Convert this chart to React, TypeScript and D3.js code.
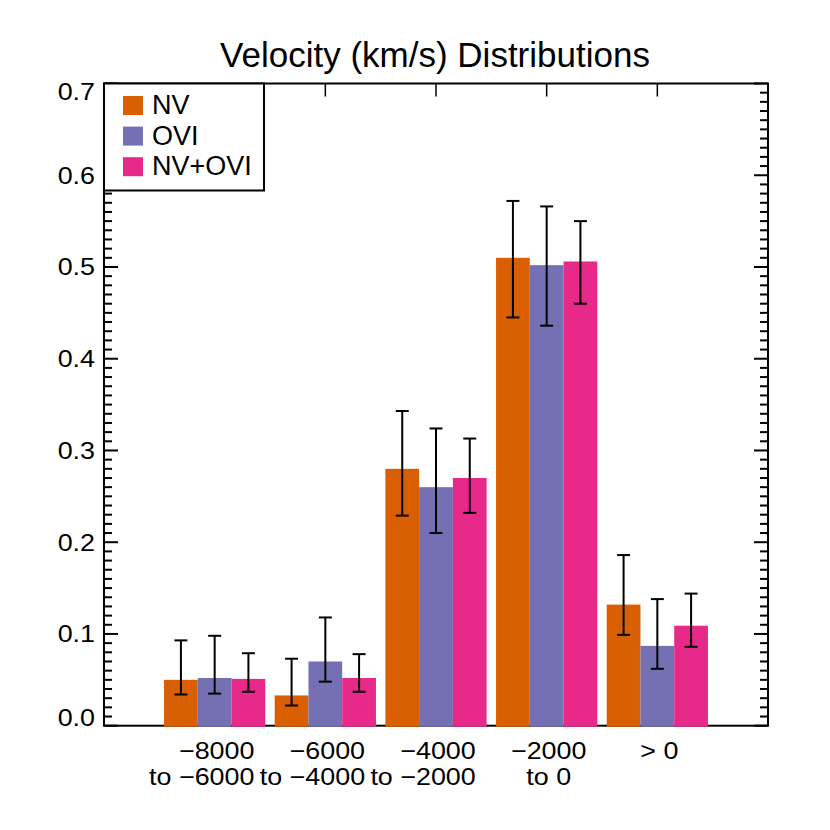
import React from "react";
import * as d3 from "d3";

const labelsTop = ["\u22128000", "\u22126000", "\u22124000", "\u22122000", "> 0"];
const labelsBottom = ["to \u22126000", "to \u22124000", "to \u22122000", "to 0", ""];
const categoryPos = [1, 2, 3, 4, 5];

const seriesNames = ["NV", "OVI", "NV+OVI"];
const seriesColors = ["#D95F02", "#7570B3", "#E7298A"];

const nvVal = [0.050, 0.033, 0.280, 0.510, 0.132];
const nvLo = [0.034, 0.022, 0.229, 0.445, 0.099];
const nvHi = [0.093, 0.073, 0.343, 0.572, 0.186];

const oviVal = [0.052, 0.070, 0.260, 0.502, 0.087];
const oviLo = [0.035, 0.048, 0.210, 0.436, 0.062];
const oviHi = [0.098, 0.118, 0.324, 0.566, 0.138];

const bothVal = [0.051, 0.052, 0.270, 0.506, 0.109];
const bothLo = [0.037, 0.037, 0.232, 0.460, 0.086];
const bothHi = [0.079, 0.078, 0.313, 0.550, 0.144];

const yTickValues = [0, 0.1, 0.2, 0.3, 0.4, 0.5, 0.6, 0.7];
const title = "Velocity (km/s) Distributions";

const FONT = "'Liberation Sans', Arial, Helvetica, sans-serif";
const LABEL_SIZE = 24;
const LABEL_SX = 1.12;

function measure(text: string, size: number, sx: number) {
  const c = document.createElement("canvas").getContext("2d");
  if (!c) return text.length * size * 0.55 * sx;
  c.font = `${size}px 'Liberation Sans'`;
  return c.measureText(text).width * sx;
}

export default function App() {
  const left = 104, right = 768, top = 83.5, bottom = 725.7;
  const x = d3.scaleLinear().domain([0, 6]).range([left, right]);
  const y = d3.scaleLinear().domain([0, 0.7]).range([bottom, top]);
  const barW = 0.305;

  const series = [
    { val: nvVal, lo: nvLo, hi: nvHi },
    { val: oviVal, lo: oviLo, hi: oviHi },
    { val: bothVal, lo: bothLo, hi: bothHi },
  ];

  const minorTicks = d3.range(0, 71).map((i) => i / 100);

  return (
    <svg
      width={830}
      height={830}
      style={{ position: "absolute", left: 0, top: 0, background: "#fff" }}
      fontFamily={FONT}
    >
      <rect x={0} y={0} width={830} height={830} fill="#fff" />
      {/* frame */}
      <rect x={left} y={top} width={right - left} height={bottom - top} fill="none" stroke="#000" strokeWidth={2} />
      {/* y ticks left & right */}
      {minorTicks.map((v, i) => {
        const major = i % 10 === 0;
        const len = major ? 14 : 8;
        const yy = y(v);
        return (
          <g key={"t" + i}>
            <line x1={left} x2={left + len} y1={yy} y2={yy} stroke="#000" strokeWidth={2} />
            <line x1={right} x2={right - len} y1={yy} y2={yy} stroke="#000" strokeWidth={2} />
          </g>
        );
      })}
      {/* x ticks top & bottom */}
      {categoryPos.map((c) => (
        <g key={"xt" + c}>
          <line x1={x(c)} x2={x(c)} y1={top} y2={top + 13} stroke="#000" strokeWidth={1.5} />
          <line x1={x(c)} x2={x(c)} y1={bottom} y2={bottom - 13} stroke="#000" strokeWidth={1.5} />
        </g>
      ))}
      {/* bars */}
      {series.map((s, si) =>
        s.val.map((v, ci) => {
          const cx = categoryPos[ci] + (si - 1) * barW;
          const x0 = x(cx - barW / 2);
          const x1 = x(cx + barW / 2);
          return (
            <rect
              key={`b${si}-${ci}`}
              x={x0}
              y={y(v)}
              width={x1 - x0}
              height={bottom + 1 - y(v)}
              fill={seriesColors[si]}
            />
          );
        })
      )}
      {/* error bars */}
      {series.map((s, si) =>
        s.val.map((_, ci) => {
          const cx = x(categoryPos[ci] + (si - 1) * barW);
          const yl = y(s.lo[ci]);
          const yh = y(s.hi[ci]);
          return (
            <g key={`e${si}-${ci}`} stroke="#000" strokeWidth={2}>
              <line x1={cx} x2={cx} y1={yl} y2={yh} />
              <line x1={cx - 6.5} x2={cx + 6.5} y1={yl} y2={yl} />
              <line x1={cx - 6.5} x2={cx + 6.5} y1={yh} y2={yh} />
            </g>
          );
        })
      )}
      {/* y tick labels */}
      {yTickValues.map((v) => {
        const ty = Math.min(Math.max(y(v), top + 8), bottom - 8);
        return (
          <text
            key={"yl" + v}
            transform={`translate(95,${ty + 8.5}) scale(${LABEL_SX},1)`}
            textAnchor="end"
            fontSize={LABEL_SIZE}
            fill="#000"
          >
            {v.toFixed(1)}
          </text>
        );
      })}
      {/* x labels */}
      {categoryPos.map((c, i) => {
        const cx = x(c) + 2;
        const w1 = measure(labelsTop[i], LABEL_SIZE, LABEL_SX);
        const w2 = measure(labelsBottom[i], LABEL_SIZE, LABEL_SX);
        const wide = w2 > w1;
        return (
          <g key={"xl" + i} fill="#000" fontSize={LABEL_SIZE}>
            <text transform={`translate(${cx},759) scale(${LABEL_SX},1)`} textAnchor="middle">
              {labelsTop[i]}
            </text>
            {labelsBottom[i] && (
              <text
                transform={`translate(${wide ? cx + w1 / 2 : cx},785) scale(${LABEL_SX},1)`}
                textAnchor={wide ? "end" : "middle"}
              >
                {labelsBottom[i]}
              </text>
            )}
          </g>
        );
      })}
      {/* legend */}
      <rect x={left} y={top} width={160} height={107} fill="#fff" stroke="#000" strokeWidth={2} />
      {seriesNames.map((n, i) => (
        <g key={"lg" + i}>
          <rect x={123} y={96 + i * 30.6} width={20} height={19} fill={seriesColors[i]} />
          <text x={152} y={114} fontSize={27} fill="#000" transform={`translate(0,${i * 30.6})`}>
            {n}
          </text>
        </g>
      ))}
      {/* title */}
      <text x={435} y={67} textAnchor="middle" fontSize={35} fill="#000">
        {title}
      </text>
    </svg>
  );
}
